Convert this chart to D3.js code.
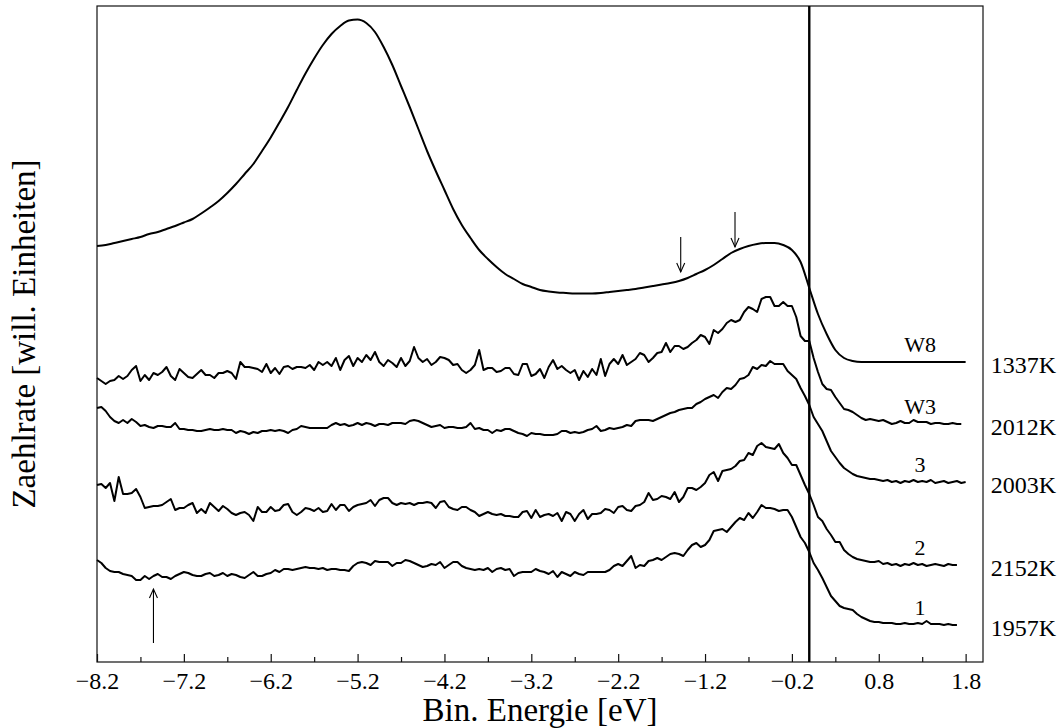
<!DOCTYPE html>
<html>
<head>
<meta charset="utf-8">
<script src="https://cdn.jsdelivr.net/npm/d3@7"></script>
<style>
  html, body { margin: 0; padding: 0; background: #fff; }
  svg { display: block; }
  text { font-family: "Liberation Serif", "Times New Roman", serif; fill: #000; }
</style>
</head>
<body>
<svg id="chart" width="1061" height="728"></svg>
<script>
// Photoemission spectra, binding energy in eV, count rate in arbitrary units (curves stacked)
const seriesNames  = ["W8", "W3", "3", "2", "1"];
const temperatures = ["1337K", "2012K", "2003K", "2152K", "1957K"];

// W8 is sampled every 0.1 eV, the other spectra every 0.05 eV, all from -8.2 eV
const gridStart = -8.2;
const w8Step = 0.1;
const noisyStep = 0.05;

const w8 = [
  416,417,419,421,423,425,428,430,433,436,
  439.5,443,448.5,454.5,461,469,478,488,498,511,
  524.5,539.5,555,572,588.5,603.5,617,628,636,641.5,
  642.5,639,630,615,597,576,555,533,511,491,
  472,453,437,424,412,403,395,388,383,378,
  375,372,370.5,369.5,369,368.5,368.5,368.5,369,370,
  371,372,373,374.5,376,377.5,379,381,384,388,
  392,397,403,409,413,416,418,419,419,417,
  412,400,374,348,328,312,304,301,300,300,
  300,300,300,300,300,300,300,300,300,300,
  300
];

const w3 = [
  284,281,278,281,282,286,283,286,292,296,
  281,287,282,289,287,290,295,286,282,293,
  289,285,284,288,292,287,287,284,289,289,
  291,289,283,300,295,295,294,293,290,298,
  289,294,288,295,296,293,295,295,294,297,
  292,300,297,300,296,304,292,302,306,296,
  304,300,307,302,310,300,296,302,299,295,
  304,296,301,315,304,300,303,297,300,305,
  304,302,297,298,292,289,292,297,312,292,
  294,294,290,291,294,294,288,287,298,298,
  286,288,293,284,295,302,293,296,292,289,
  292,282,291,285,293,287,303,286,298,303,
  298,307,297,300,303,309,307,300,304,309,
  310,319,310,316,316,313,315,319,322,327,
  325,318,332,329,333,339,342,340,342,350,
  355,353,350,363,365,365,356,356,360,356,
  356,345,326,321,321,304,290,278,273,272,
  265,259,253,252,250,247,244,242,243,242,
  241,242,240,238,239,241,239,239,242,240,
  240,240,238,239,239,238,238,239,238,238
];

const s3 = [
  254,255,251,245,241,239,242,239,243,240,
  236,237,235,234,236,236,235,235,239,233,
  233,232,232,231,231,232,233,232,232,233,
  232,232,229,231,230,228,230,229,231,231,
  232,231,232,231,229,232,233,236,235,234,
  234,234,234,234,237,239,237,238,236,237,
  239,237,239,238,236,238,238,237,239,239,
  239,238,241,242,241,239,237,235,236,237,
  234,235,235,234,234,235,239,233,234,232,
  232,229,232,231,233,233,231,229,228,226,
  229,228,228,227,227,227,228,231,231,229,
  230,229,230,232,233,236,231,232,234,233,
  234,235,237,236,241,242,242,242,241,243,
  245,247,249,250,252,253,254,254,258,260,
  263,265,267,264,270,274,273,277,283,284,
  287,295,293,297,296,301,298,298,298,291,
  287,283,274,266,257,245,238,231,221,211,
  205,199,194,191,188,186,185,184,183,183,
  182,181,182,180,181,179,181,180,182,180,
  181,180,182,179,180,181,179,180,181,179,
  180
];

const s2 = [
  177,178,174,179,161,185,168,168,169,173,
  165,154,155,156,156,157,160,163,152,154,
  154,157,159,149,153,149,159,155,151,156,
  153,149,147,149,150,147,141,155,150,150,
  155,151,152,157,158,150,147,150,154,153,
  151,154,150,151,158,152,157,157,151,155,
  157,158,159,162,156,162,164,164,159,157,
  159,158,159,157,159,159,160,159,154,160,
  161,155,153,152,155,155,152,150,146,148,
  150,148,147,148,146,146,145,145,150,151,
  144,152,145,147,148,146,149,141,150,148,
  141,148,152,143,148,148,149,153,152,149,
  155,156,152,151,156,157,160,169,162,163,
  166,165,163,170,160,165,174,174,172,175,
  179,187,190,181,191,192,193,196,201,202,
  209,207,216,219,215,214,213,218,209,204,
  197,197,187,177,168,157,145,141,133,127,
  120,120,112,108,105,103,102,101,100,100,
  101,98,99,97,98,96,98,97,99,97,
  98,96,97,98,97,96,98,97,97
];

const s1 = [
  102,99,94,91,90,90,88,87,86,82,
  82,86,83,86,88,85,85,83,86,88,
  90,89,87,86,86,88,89,86,87,89,
  86,88,87,85,84,87,90,86,86,88,
  89,92,90,93,93,92,93,94,95,94,
  94,93,94,92,93,93,92,92,91,96,
  99,100,99,97,101,100,100,100,96,99,
  99,102,101,99,97,95,96,98,97,100,
  94,97,100,100,96,94,93,92,93,92,
  94,90,93,94,92,93,86,89,90,90,
  90,93,91,90,88,91,85,90,88,86,
  90,88,87,90,90,90,90,90,92,96,
  98,96,101,106,94,97,96,101,102,104,
  102,105,108,109,108,106,112,117,119,115,
  117,122,131,132,133,130,135,140,144,142,
  149,144,150,157,154,154,153,151,152,152,
  145,135,125,119,110,99,92,84,75,66,
  61,56,54,53,52,48,45,43,41,40,
  40,39,39,39,38,38,39,38,38,39,
  38,41,38,38,38,37,38,37,37
];

const majorTicks = [-8.2, -7.2, -6.2, -5.2, -4.2, -3.2, -2.2, -1.2, -0.2, 0.8, 1.8];
const minorTicks = [-7.7, -6.7, -5.7, -4.7, -3.7, -2.7, -1.7, -0.7, 0.3, 1.3];
const fermiEnergy = 0;

// Arrows marking spectral features: energy, tail and head intensity
const arrowEnergies = [-1.48, -0.855, -7.55];
const arrowTails    = [425, 450, 19];
const arrowHeads    = [390, 415, 73];

// ---- layout ----
const W = 1061, H = 728;
const margin = { left: 97, right: 78, top: 6, bottom: 66 };
const x = d3.scaleLinear().domain([-8.2, 2.0]).range([margin.left, W - margin.right]);
const y = d3.scaleLinear().domain([0, 656]).range([H - margin.bottom, margin.top]);

const svg = d3.select("#chart");
const fmt = d3.format(".1f");

const series = [
  { values: w8, step: w8Step, curve: d3.curveMonotoneX },
  { values: w3, step: noisyStep, curve: d3.curveLinear },
  { values: s3, step: noisyStep, curve: d3.curveLinear },
  { values: s2, step: noisyStep, curve: d3.curveLinear },
  { values: s1, step: noisyStep, curve: d3.curveLinear }
].map((s, k) => ({
  ...s,
  name: seriesNames[k],
  temp: temperatures[k],
  points: s.values.map((v, i) => [gridStart + s.step * i, v])
}));

// frame
svg.append("rect")
  .attr("x", x(-8.2)).attr("y", y(656))
  .attr("width", x(2.0) - x(-8.2)).attr("height", y(0) - y(656))
  .attr("fill", "none").attr("stroke", "#111").attr("stroke-width", 1.2);

// bottom axis, inward ticks
svg.append("g").attr("transform", `translate(0,${y(0)})`)
  .call(d3.axisBottom(x).tickValues(majorTicks).tickSize(-8).tickPadding(10).tickFormat(fmt))
  .call(g => g.select(".domain").remove())
  .call(g => g.selectAll("text").attr("font-size", 24).attr("font-family", "Liberation Serif"))
  .call(g => g.selectAll("line").attr("stroke", "#111").attr("stroke-width", 1.2));
svg.append("g").attr("transform", `translate(0,${y(0)})`)
  .call(d3.axisBottom(x).tickValues(minorTicks).tickSize(-5).tickFormat(""))
  .call(g => g.select(".domain").remove())
  .call(g => g.selectAll("line").attr("stroke", "#111").attr("stroke-width", 1.2));

// Fermi level
svg.append("line")
  .attr("x1", x(fermiEnergy)).attr("x2", x(fermiEnergy))
  .attr("y1", y(656)).attr("y2", y(0))
  .attr("stroke", "#000").attr("stroke-width", 2.4);

// spectra
series.forEach(s => {
  const line = d3.line().x(d => x(d[0])).y(d => y(d[1])).curve(s.curve);
  svg.append("path")
    .attr("d", line(s.points))
    .attr("fill", "none")
    .attr("stroke", "#000")
    .attr("stroke-width", 2)
    .attr("stroke-linejoin", "round");
});

// curve labels near each tail, temperatures outside the frame
series.forEach(s => {
  const tail = s.values[s.values.length - 1];
  svg.append("text")
    .attr("x", x(1.275)).attr("y", y(tail) - 10)
    .attr("text-anchor", "middle").attr("font-size", 22)
    .text(s.name);
  svg.append("text")
    .attr("x", x(2.09)).attr("y", y(tail) + 11)
    .attr("text-anchor", "start").attr("font-size", 24)
    .text(s.temp);
});

// arrows
const defs = svg.append("defs");
defs.append("marker")
  .attr("id", "arrowhead")
  .attr("markerUnits", "userSpaceOnUse")
  .attr("viewBox", "-10 -6 12 12")
  .attr("refX", 0).attr("refY", 0)
  .attr("markerWidth", 12).attr("markerHeight", 12)
  .attr("orient", "auto")
  .append("path")
  .attr("d", "M-9,-4 L0,0 L-9,4")
  .attr("fill", "none").attr("stroke", "#000").attr("stroke-width", 1.1);

arrowEnergies.forEach((e, k) => {
  svg.append("line")
    .attr("x1", x(e)).attr("x2", x(e))
    .attr("y1", y(arrowTails[k])).attr("y2", y(arrowHeads[k]))
    .attr("stroke", "#000").attr("stroke-width", 1.1)
    .attr("marker-end", "url(#arrowhead)");
});

// axis titles
svg.append("text")
  .attr("x", (x(-8.2) + x(2.0)) / 2).attr("y", 721)
  .attr("text-anchor", "middle").attr("font-size", 33)
  .text("Bin. Energie [eV]");
svg.append("text")
  .attr("transform", `translate(35,${(y(0) + y(656)) / 2}) rotate(-90)`)
  .attr("text-anchor", "middle").attr("font-size", 33)
  .text("Zaehlrate [will. Einheiten]");
</script>
</body>
</html>
